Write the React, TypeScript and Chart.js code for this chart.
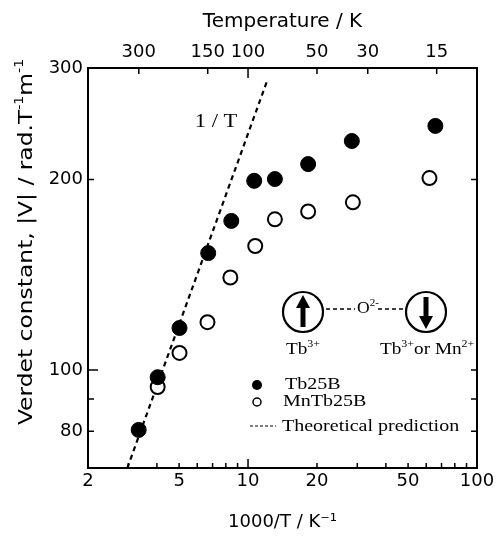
import React, { useEffect, useRef } from "react";
import { Chart, registerables } from "chart.js";

Chart.register(...registerables);

// ---- data ----
const tb25bX = [3.33, 4.03, 5.02, 6.7, 8.45, 10.64, 13.1, 18.3, 28.4, 65.8];
const tb25bY = [80.4, 97.4, 116.5, 153, 172, 199, 200.3, 211.5, 230, 243];
const mnTb25bX = [4.03, 5.02, 6.65, 8.37, 10.75, 13.1, 18.3, 28.7, 62.0];
const mnTb25bY = [94, 106.4, 119, 140, 157, 173, 178, 184, 201];
const theoryX = [2.97, 12.1];
const theoryY = [70, 286];

// ---- ticks ----
const xTickValues = [2, 5, 10, 20, 50, 100];
const yTickValues = [80, 100, 200, 300];
const tempTickLabels = [300, 150, 100, 50, 30, 15];
const xMinorTicks = [3, 4, 5, 6, 7, 8, 9, 20, 30, 40, 50, 60, 70, 80, 90];
const xMajorTicks = [10];
const yInnerTicks = [80, 90, 100, 200];
const yMajorTicks = [100];

const SANS = "'DejaVu Sans', sans-serif";
const SERIF = "'Liberation Serif', 'Times New Roman', serif";

type Run = { t: string; sup?: boolean };

function drawRuns(
  ctx: CanvasRenderingContext2D,
  runs: Run[],
  x: number,
  y: number,
  size: number,
  family: string,
  sx: number,
  align: "left" | "center" | "right",
  rot = 0
) {
  ctx.save();
  ctx.translate(x, y);
  if (rot) ctx.rotate(rot);
  ctx.scale(sx, 1);
  ctx.textBaseline = "middle";
  ctx.textAlign = "left";
  ctx.fillStyle = "#000";
  const widths = runs.map((r) => {
    ctx.font = `${r.sup ? Math.round(size * 0.62) : size}px ${family}`;
    return ctx.measureText(r.t).width;
  });
  const total = widths.reduce((a, b) => a + b, 0);
  let cx = align === "center" ? -total / 2 : align === "right" ? -total : 0;
  runs.forEach((r, i) => {
    ctx.font = `${r.sup ? Math.round(size * 0.62) : size}px ${family}`;
    ctx.fillText(r.t, cx, r.sup ? -size * 0.36 : 0);
    cx += widths[i];
  });
  ctx.restore();
}

const decorPlugin = {
  id: "decor",
  afterDraw(chart: any) {
    const { ctx, chartArea: a, scales } = chart;
    const xs = scales.x;
    const ys = scales.y;
    ctx.save();
    ctx.strokeStyle = "#000";
    ctx.fillStyle = "#000";
    ctx.setLineDash([]);

    // frame
    ctx.lineWidth = 2;
    ctx.strokeRect(a.left, a.top, a.right - a.left, a.bottom - a.top);

    // inward ticks
    ctx.lineWidth = 1.5;
    ctx.beginPath();
    xMinorTicks.forEach((v) => {
      const px = xs.getPixelForValue(v);
      ctx.moveTo(px, a.bottom);
      ctx.lineTo(px, a.bottom - 5);
    });
    xMajorTicks.forEach((v) => {
      const px = xs.getPixelForValue(v);
      ctx.moveTo(px, a.bottom);
      ctx.lineTo(px, a.bottom - 9);
    });
    tempTickLabels.forEach((t) => {
      const px = xs.getPixelForValue(1000 / t);
      ctx.moveTo(px, a.top);
      ctx.lineTo(px, a.top + (t === 100 ? 10 : 6));
    });
    yInnerTicks.forEach((v) => {
      const py = ys.getPixelForValue(v);
      const len = yMajorTicks.includes(v) ? 10 : 6;
      ctx.moveTo(a.left, py);
      ctx.lineTo(a.left + len, py);
      ctx.moveTo(a.right, py);
      ctx.lineTo(a.right - 6, py);
    });
    ctx.stroke();

    // y-axis title
    drawRuns(
      ctx,
      [
        { t: "Verdet constant, |V| / rad.T" },
        { t: "-1", sup: true },
        { t: "m" },
        { t: "-1", sup: true },
      ],
      27,
      242,
      20,
      SANS,
      1.17,
      "center",
      -Math.PI / 2
    );

    // 1 / T label
    drawRuns(ctx, [{ t: "1 / T" }], 216, 122, 18, SERIF, 1.25, "center");

    // spin diagram
    const c1x = 303, c2x = 426, cy = 312, r = 20;
    ctx.lineWidth = 2.2;
    ctx.beginPath();
    ctx.arc(c1x, cy, r, 0, Math.PI * 2);
    ctx.stroke();
    ctx.beginPath();
    ctx.arc(c2x, cy, r, 0, Math.PI * 2);
    ctx.stroke();
    // up arrow
    ctx.lineWidth = 5;
    ctx.beginPath();
    ctx.moveTo(c1x, cy + 15);
    ctx.lineTo(c1x, cy - 5);
    ctx.stroke();
    ctx.beginPath();
    ctx.moveTo(c1x - 7, cy - 4);
    ctx.lineTo(c1x + 7, cy - 4);
    ctx.lineTo(c1x, cy - 17);
    ctx.closePath();
    ctx.fill();
    // down arrow
    ctx.beginPath();
    ctx.moveTo(c2x, cy - 15);
    ctx.lineTo(c2x, cy + 5);
    ctx.stroke();
    ctx.beginPath();
    ctx.moveTo(c2x - 7, cy + 4);
    ctx.lineTo(c2x + 7, cy + 4);
    ctx.lineTo(c2x, cy + 17);
    ctx.closePath();
    ctx.fill();
    // connector
    ctx.lineWidth = 1.5;
    ctx.setLineDash([4, 3]);
    ctx.beginPath();
    ctx.moveTo(c1x + r + 3, cy - 3);
    ctx.lineTo(355, cy - 3);
    ctx.moveTo(378, cy - 3);
    ctx.lineTo(c2x - r - 2, cy - 3);
    ctx.stroke();
    ctx.setLineDash([]);
    drawRuns(ctx, [{ t: "O" }, { t: "2-", sup: true }], 357, cy - 3, 16, SERIF, 1.1, "left");
    drawRuns(ctx, [{ t: "Tb" }, { t: "3+", sup: true }], c1x, 350, 16, SERIF, 1.2, "center");
    drawRuns(
      ctx,
      [{ t: "Tb" }, { t: "3+", sup: true }, { t: "or Mn" }, { t: "2+", sup: true }],
      380,
      350,
      16,
      SERIF,
      1.2,
      "left"
    );

    // legend
    ctx.beginPath();
    ctx.arc(257, 385, 5, 0, Math.PI * 2);
    ctx.fill();
    ctx.lineWidth = 1.5;
    ctx.beginPath();
    ctx.arc(257, 402, 4, 0, Math.PI * 2);
    ctx.stroke();
    ctx.lineWidth = 1.2;
    ctx.setLineDash([3, 2]);
    ctx.beginPath();
    ctx.moveTo(250, 426);
    ctx.lineTo(276, 426);
    ctx.stroke();
    ctx.setLineDash([]);
    drawRuns(ctx, [{ t: "Tb25B" }], 285, 385, 16, SERIF, 1.25, "left");
    drawRuns(ctx, [{ t: "MnTb25B" }], 283, 402, 16, SERIF, 1.25, "left");
    drawRuns(ctx, [{ t: "Theoretical prediction" }], 282, 427, 16, SERIF, 1.25, "left");

    ctx.restore();
  },
};

export default function App() {
  const ref = useRef<HTMLCanvasElement | null>(null);

  useEffect(() => {
    if (!ref.current) return;
    const tickFont = { family: SANS, size: 18 };
    const chart = new Chart(ref.current, {
      type: "scatter",
      data: {
        datasets: [
          {
            label: "Tb25B",
            data: tb25bX.map((x, i) => ({ x, y: tb25bY[i] })),
            pointRadius: 7.5,
            pointBackgroundColor: "#000",
            pointBorderColor: "#000",
            pointBorderWidth: 1,
            showLine: false,
          },
          {
            label: "MnTb25B",
            data: mnTb25bX.map((x, i) => ({ x, y: mnTb25bY[i] })),
            pointRadius: 7,
            pointBackgroundColor: "#fff",
            pointBorderColor: "#000",
            pointBorderWidth: 2,
            showLine: false,
          },
          {
            label: "Theoretical prediction",
            data: theoryX.map((x, i) => ({ x, y: theoryY[i] })),
            showLine: true,
            pointRadius: 0,
            borderColor: "#000",
            borderWidth: 2.2,
            borderDash: [5, 4],
            fill: false,
          },
        ],
      },
      options: {
        animation: false,
        responsive: false,
        maintainAspectRatio: false,
        layout: { padding: { left: 0, right: 23, top: 0, bottom: 0 } },
        plugins: { legend: { display: false }, tooltip: { enabled: false } },
        scales: {
          x: {
            type: "logarithmic",
            position: "bottom",
            min: 2,
            max: 100,
            afterBuildTicks: (s: any) => {
              s.ticks = xTickValues.map((v) => ({ value: v }));
            },
            afterFit: (s: any) => {
              s.height = 68;
            },
            grid: { display: false, drawTicks: false },
            border: { display: false },
            ticks: {
              color: "#000",
              font: tickFont,
              padding: 3,
              autoSkip: false,
              maxRotation: 0,
              callback: (v: any) => String(v),
            },
            title: {
              display: true,
              text: "1000/T / K⁻¹",
              color: "#000",
              font: { family: SANS, size: 18 },
              padding: { top: 0, bottom: 3 },
            },
          },
          x2: {
            type: "logarithmic",
            position: "top",
            min: 2,
            max: 100,
            afterBuildTicks: (s: any) => {
              s.ticks = tempTickLabels.map((t) => ({ value: 1000 / t }));
            },
            afterFit: (s: any) => {
              s.height = 68;
            },
            grid: { display: false, drawTicks: false },
            border: { display: false },
            ticks: {
              color: "#000",
              font: tickFont,
              padding: 5,
              autoSkip: false,
              maxRotation: 0,
              callback: (_v: any, i: number) => String(tempTickLabels[i]),
            },
            title: {
              display: true,
              text: "Temperature / K",
              color: "#000",
              font: { family: SANS, size: 20 },
              padding: { top: 10, bottom: 0 },
            },
          },
          y: {
            type: "logarithmic",
            position: "left",
            min: 70,
            max: 300,
            afterBuildTicks: (s: any) => {
              s.ticks = yTickValues.map((v) => ({ value: v }));
            },
            afterFit: (s: any) => {
              s.width = 88;
            },
            grid: { display: false, drawTicks: false },
            border: { display: false },
            ticks: {
              color: "#000",
              font: tickFont,
              padding: 5,
              autoSkip: false,
              callback: (v: any) => String(v),
            },
            title: { display: false },
          },
        },
      } as any,
      plugins: [decorPlugin],
    });
    return () => chart.destroy();
  }, []);

  return (
    <div
      style={{
        position: "absolute",
        left: 0,
        top: 0,
        width: 500,
        height: 536,
        background: "#fff",
      }}
    >
      <canvas ref={ref} width={500} height={536} style={{ display: "block" }} />
    </div>
  );
}
